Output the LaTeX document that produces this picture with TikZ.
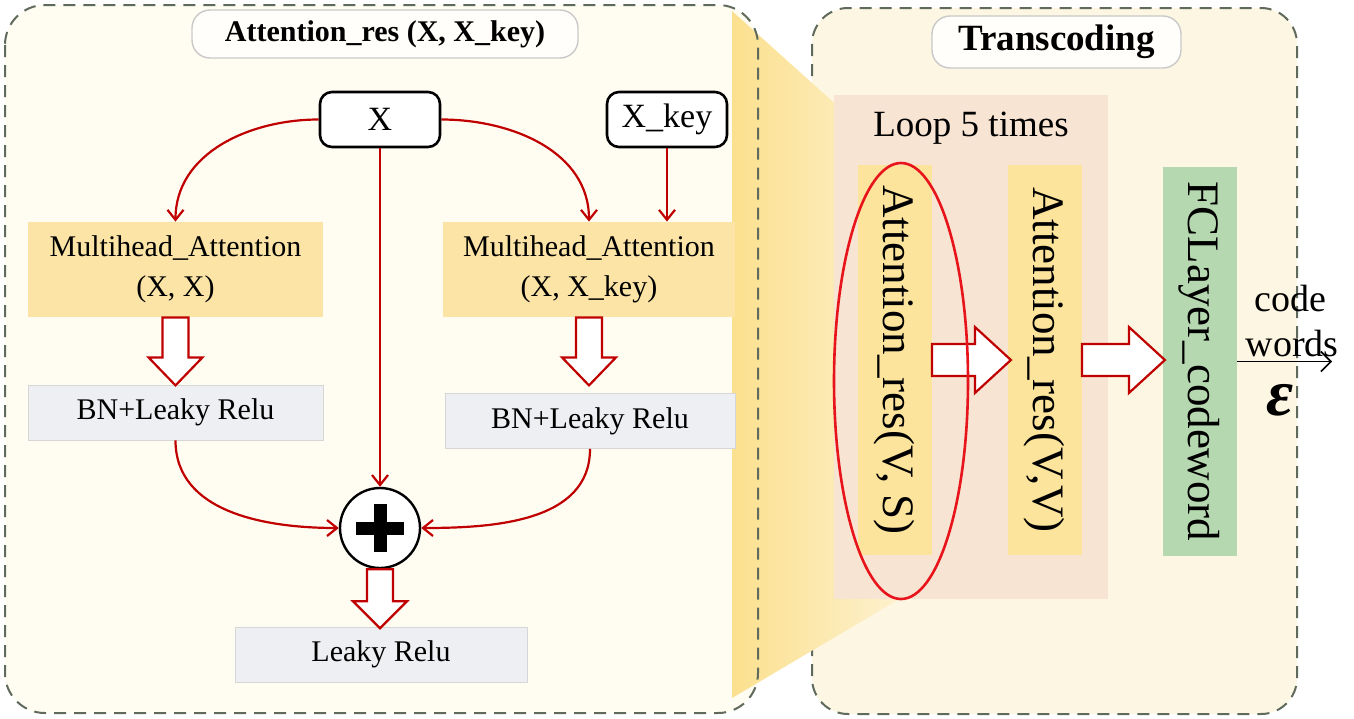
\documentclass[tikz,border=0pt]{standalone}
\usepackage{fontspec}
\setmainfont{Liberation Serif}
\usetikzlibrary{arrows.meta,positioning,calc}
\definecolor{ARFrame}    {HTML}{5F6A5C}
\definecolor{ARPanelL}   {HTML}{FFFDF2}
\definecolor{ARPanelR}   {HTML}{FDF6E2}
\definecolor{ARTitleLn}  {HTML}{C9C9C9}
\definecolor{ARTitleBg}  {HTML}{FFFEFA}
\definecolor{ARGold}     {HTML}{FBE4A6}
\definecolor{ARGoldLt}   {HTML}{FCE49C}
\definecolor{ARGray}     {HTML}{EEEFF2}
\definecolor{ARGrayLn}   {HTML}{D6D6D6}
\definecolor{ARRed}      {HTML}{C00000}
\definecolor{ARRing}     {HTML}{E8141C}
\definecolor{ARPeach}    {HTML}{F8E4D3}
\definecolor{ARGreen}    {HTML}{B6D8B0}
\definecolor{ARFunnelDk} {HTML}{FBE08E}
\definecolor{ARFunnelLt} {HTML}{FDF1CE}

\begin{document}
\begin{tikzpicture}[x=0.5pt,y=-0.5pt,
    frame/.style={draw=ARFrame,line width=1pt,dash pattern=on 6pt off 4pt,rounded corners=20pt},
    title/.style={draw=ARTitleLn,fill=ARTitleBg,line width=0.7pt,rounded corners=9pt},
    inbox/.style={draw=black,fill=white,line width=1.3pt,rounded corners=6pt,
      minimum width=60pt,minimum height=27.5pt,font=\fontsize{17}{20}\selectfont},
    mabox/.style={fill=ARGold,minimum height=47.5pt,align=center,font=\fontsize{15}{20}\selectfont},
    bnbox/.style={draw=ARGrayLn,fill=ARGray,line width=0.4pt,minimum height=27.5pt,
      font=\fontsize{15}{18}\selectfont},
    vbox/.style={minimum width=37pt,minimum height=195pt,inner sep=0pt,font=\fontsize{22.5}{26}\selectfont},
    link/.style={draw=ARRed,line width=1.1pt,-{Straight Barb[length=5pt,width=8pt]}},
    pics/blockarrow/.style n args={4}{code={
      \draw[draw=ARRed,fill=white,line width=1.1pt,line join=miter]
        (0pt,{-#2}) -- ({#1-#4},{-#2}) -- ({#1-#4},{-#3}) -- (#1,0pt)
        -- ({#1-#4},#3) -- ({#1-#4},#2) -- (0pt,#2) -- cycle;}}]
  \useasboundingbox (0,0) rectangle (1354,718);

  % Panels and the magnifier band
  \fill[ARPanelL,rounded corners=20pt] (5,5) rectangle (758,713);
  \filldraw[frame,fill=ARPanelR,rounded corners=18pt] (812,8) rectangle (1297,714);
  \shade[left color=ARFunnelDk,right color=ARFunnelLt]
    (732,11) -- (901,163) -- (901,598) -- (732,698) -- cycle;
  \draw[frame] (5,5) rectangle (758,713);

  % Attention_res block
  \node[title,minimum width=193pt,minimum height=24pt,font=\fontsize{15}{18}\selectfont\bfseries]
    (ttlL) at (385,34) {Attention\_res (X, X\_key)};
  \node[inbox] (nX)  at (380,119.5) {X};
  \node[inbox] (nXk) at (667,119.5) {X\_key};
  \node[mabox,minimum width=147.5pt] (ma1) at (175.5,269.5) {Multihead\_Attention\\(X, X)};
  \node[mabox,minimum width=146pt]   (ma2) at (589,269.5)   {Multihead\_Attention\\(X, X\_key)};
  \node[bnbox,minimum width=147.5pt] (bn1) at (175.5,412.5) {BN+Leaky Relu};
  \node[bnbox,minimum width=145pt]   (bn2) at (590,421)     {BN+Leaky Relu};
  \node[circle,draw=black,fill=white,line width=1.2pt,minimum size=40pt,inner sep=0pt]
    (sum) at (380,528) {};
  \draw[line width=6.5pt] ([xshift=-12pt]sum.center) -- ([xshift=12pt]sum.center)
    ([yshift=-12pt]sum.center) -- ([yshift=12pt]sum.center);
  \node[bnbox,minimum width=146pt] (lr) at (381,654.5) {Leaky Relu};

  \draw[link] (nX.west) to[out=180,in=90] (ma1.north);
  \draw[link] (nX.east) to[out=0,in=90] (ma2.north);
  \draw[link] (nXk.south) -- (nXk.south |- ma2.north);
  \draw[link] (nX.south) -- (sum.north);
  \draw[link] (bn1.south) to[out=-90,in=180] (sum.west);
  \draw[link] (bn2.south) to[out=-90,in=0] (sum.east);
  \pic[rotate=-90] at (ma1.south) {blockarrow={34pt}{6.5pt}{13.5pt}{14pt}};
  \pic[rotate=-90] at (ma2.south) {blockarrow={34pt}{6.5pt}{13.5pt}{14pt}};
  \pic[rotate=-90] at (sum.south) {blockarrow={29.5pt}{6.5pt}{13.5pt}{13.5pt}};

  % Transcoding block
  \node[title,minimum width=124.5pt,minimum height=26pt,font=\fontsize{18.5}{22}\selectfont\bfseries]
    (ttlR) at (1056.5,42) {Transcoding};
  \node[fill=ARPeach,minimum width=137pt,minimum height=252pt] (loop) at (971,347) {};
  \node[font=\fontsize{18.5}{22}\selectfont] (loopLbl) at (971,128) {Loop 5 times};
  \node[vbox,fill=ARGoldLt] (att1) at (894.5,360)  {\rotatebox{-90}{Attention\_res(V, S)}};
  \node[vbox,fill=ARGoldLt] (att2) at (1044.5,360) {\rotatebox{-90}{Attention\_res(V,V)}};
  \node[vbox,fill=ARGreen,minimum height=194.5pt] (fc) at (1199.5,361.5) {\rotatebox{-90}{FCLayer\_codeword}};
  \pic at (att1.east) {blockarrow={39.5pt}{8pt}{16.5pt}{18pt}};
  \pic at (att2.east) {blockarrow={41.5pt}{8pt}{16.5pt}{18pt}};

  \coordinate (out) at (1332,361.5);
  \draw[line width=0.8pt,-{Straight Barb[length=5pt,width=10pt]}] (fc.east) -- (out);
  \node[font=\fontsize{19}{22}\selectfont] (lblCode)  at (1290,298) {code};
  \node[font=\fontsize{19}{22}\selectfont] (lblWords) at (1292,343) {words};
  \node[font=\fontsize{33}{36}\selectfont\bfseries\itshape] (lblEps) at (1280,400) {ε};

  \draw[ARRing,line width=1.3pt] (901,381) ellipse [x radius=33.5pt,y radius=109pt];
\end{tikzpicture}
\end{document}
